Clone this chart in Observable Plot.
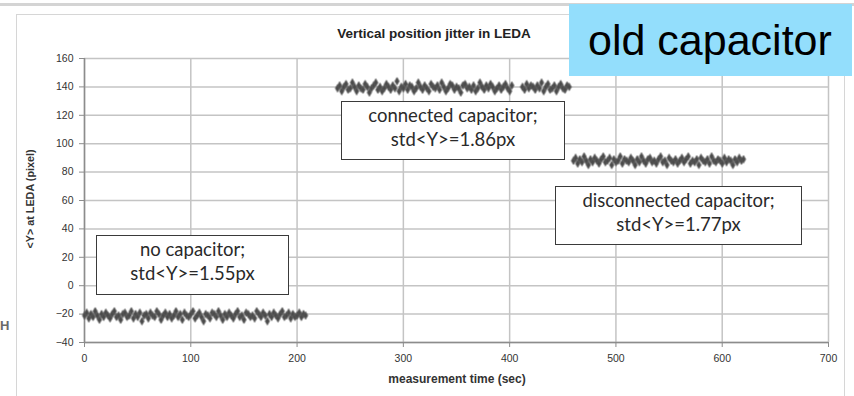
<!DOCTYPE html>
<html>
<head>
<meta charset="utf-8">
<script src="https://cdn.jsdelivr.net/npm/d3@7"></script>
<script src="https://cdn.jsdelivr.net/npm/@observablehq/plot@0.6"></script>
<style>
  html, body { margin: 0; padding: 0; background: #fff; }
  body { width: 854px; height: 396px; position: relative; overflow: hidden; font-family: "Liberation Sans", Arial, sans-serif; }
  .abs { position: absolute; }
  #topline { left: 0; top: 3px; width: 854px; height: 3px; background: #d4d4d4; }
  #frame { left: 16px; top: 14px; width: 829px; height: 400px; border: 1px solid #d6d6d6; box-sizing: border-box; }
  #chart { left: 0; top: 0; }
  #chart g[aria-label="dot"] { filter: blur(0.45px); }
  #title { left: 234px; width: 400px; top: 26px; text-align: center; font-weight: bold; font-size: 13.5px; color: #222; }
  #ylabel { left: 30px; top: 199px; transform: translate(-50%, -50%) rotate(-90deg); white-space: nowrap; font-weight: bold; font-size: 10.8px; color: #333; }
  #xlabel { left: 257px; width: 400px; top: 372px; text-align: center; font-weight: bold; font-size: 12px; color: #333; }
  .note { background: #fff; border: 1.5px solid #3a3a3a; box-sizing: border-box; text-align: center; font-family: "Lato", "Open Sans", sans-serif; font-size: 18.5px; line-height: 24px; color: #2a2a2a; padding-top: 1px; }
  #old { left: 569px; top: 4px; width: 283px; height: 72px; background: #93defc; font-family: "Liberation Sans", Arial, sans-serif; font-size: 43px; line-height: 1; color: #000; }
  #old span { position: absolute; left: 19px; top: 15px; white-space: nowrap; }
  #hfrag { left: 0px; top: 318px; font-size: 13px; font-weight: bold; color: #6a6a6a; }
</style>
</head>
<body>
<div id="topline" class="abs"></div>
<div id="frame" class="abs"></div>
<div id="chart" class="abs"></div>
<div id="title" class="abs">Vertical position jitter in LEDA</div>
<div id="ylabel" class="abs">&lt;Y&gt; at LEDA (pixel)</div>
<div id="xlabel" class="abs">measurement time (sec)</div>
<div class="abs note" style="left:341px;top:101px;width:224px;height:59px;">connected capacitor;<br>std&lt;Y&gt;=1.86px</div>
<div class="abs note" style="left:555px;top:186px;width:247px;height:59px;">disconnected capacitor;<br>std&lt;Y&gt;=1.77px</div>
<div class="abs note" style="left:96px;top:235px;width:193px;height:60px;">no capacitor;<br>std&lt;Y&gt;=1.55px</div>
<div id="old" class="abs"><span>old capacitor</span></div>
<div id="hfrag" class="abs">H</div>
<script>
// Axis ticks
const xTicks = [0, 100, 200, 300, 400, 500, 600, 700];
const yTicks = [-40, -20, 0, 20, 40, 60, 80, 100, 120, 140, 160];

// Series: start time (sec), sampling step (sec), and <Y> readings (pixel)
const noCapStart = 0, noCapStep = 2;
const noCapY = [
  -21,-19,-23,-20,-22,-18,-21,-24,-20,-22,-19,-21,-23,-20,-18,-22,-21,-24,-20,-19,
  -22,-21,-18,-23,-20,-22,-19,-25,-21,-20,-23,-19,-21,-22,-18,-20,-24,-21,-19,-22,
  -20,-23,-21,-18,-22,-20,-24,-19,-21,-22,-20,-18,-23,-21,-19,-22,-25,-20,-21,-23,
  -19,-20,-22,-18,-21,-24,-20,-22,-19,-21,-23,-20,-18,-22,-21,-24,-19,-20,-22,-21,
  -23,-18,-20,-22,-19,-21,-25,-20,-22,-19,-21,-23,-20,-18,-22,-21,-19,-23,-20,-22,
  -21,-19,-22,-20,-21
];
const connStart = 238, connStep = 2;
const connY = [
  139,141,137,140,142,138,139,143,140,137,141,139,138,142,140,136,139,141,143,138,
  140,137,139,142,140,138,141,139,144,137,140,139,142,138,141,140,137,139,143,140,
  138,141,139,137,142,140,139,141,138,143,140,137,139,142,141,138,140,139,136,141,
  142,139,140,138,141,137,139,143,140,138,141,139,142,140,137,139,141,138,140,142,
  139,137,141,null,null,null,null,140,138,142,139,141,140,138,141,139,143,137,140,142,
  138,139,141,137,140,142,139,138,141,140
];
const discStart = 460, discStep = 2;
const discY = [
  88,90,86,89,87,91,88,85,89,87,90,88,86,89,91,87,88,90,85,89,
  87,88,91,86,89,88,87,90,88,85,89,87,91,88,86,89,90,87,88,86,
  89,91,87,88,85,90,88,87,89,86,88,90,87,89,91,86,88,87,89,85,
  90,88,87,89,86,91,88,87,89,88,86,90,87,89,88,85,89,87,90,88,
  89
];

function toRows(start, step, ys) {
  return ys.map((y, i) => ({t: start + i * step, y})).filter(d => d.y != null);
}
const points = [
  ...toRows(noCapStart, noCapStep, noCapY),
  ...toRows(connStart, connStep, connY),
  ...toRows(discStart, discStep, discY)
];

const chart = Plot.plot({
  width: 854,
  height: 396,
  marginLeft: 84,
  marginRight: 26,
  marginTop: 58,
  marginBottom: 54,
  style: { background: "transparent", fontFamily: "'Liberation Sans', Arial, sans-serif", fontSize: "10.5px", color: "#333" },
  x: { domain: [0, 700], label: null },
  y: { domain: [-40, 160], label: null },
  marks: [
    Plot.gridX(xTicks, { stroke: "#c4c4c4", strokeOpacity: 1, strokeWidth: 1.5 }),
    Plot.gridY(yTicks, { stroke: "#c4c4c4", strokeOpacity: 1, strokeWidth: 1.5 }),
    Plot.ruleX([0], { stroke: "#8c8c8c", strokeWidth: 1.5 }),
    Plot.ruleY([-40], { stroke: "#8c8c8c", strokeWidth: 1.5 }),
    Plot.axisX({ ticks: xTicks, tickSize: 5, tickPadding: 7, stroke: "#8c8c8c", fill: "#333", label: null }),
    Plot.axisY({ ticks: yTicks, tickSize: 5, tickPadding: 6, stroke: "#8c8c8c", fill: "#333", label: null }),
    Plot.dot(points, { x: "t", y: "y", symbol: "diamond", r: 2.3, fill: "#4a4a4a", stroke: "#5a5a5a", strokeWidth: 0.8 })
  ]
});
document.getElementById("chart").appendChild(chart);
</script>
</body>
</html>
